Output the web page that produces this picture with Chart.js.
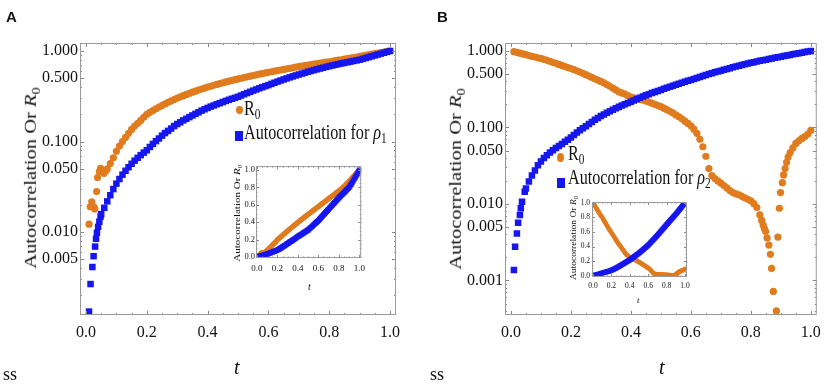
<!DOCTYPE html>
<html>
<head>
<meta charset="utf-8">
<script src="https://cdn.jsdelivr.net/npm/chart.js@4.4.0/dist/chart.umd.min.js"></script>
<style>
  html, body { margin: 0; padding: 0; background: #fff; }
  #fig { position: relative; width: 829px; height: 384px; overflow: hidden; color: #111;
         font-family: "Liberation Serif", "Times New Roman", serif; }
  #fig canvas { position: absolute; }
  .txt { position: absolute; white-space: nowrap; line-height: 1; }
  .sq { transform-origin: 0 0; transform: scaleX(0.77); }
  .rot { transform: translate(-50%, -50%) rotate(-90deg) scaleY(0.8); }
  .sb { font-size: 0.7em; vertical-align: -0.28em; }
  .mk { position: absolute; }
</style>
</head>
<body>
<div id="fig">
  <canvas id="mainA" width="414" height="384" style="left:0;top:0"></canvas>
  <canvas id="mainB" width="415" height="384" style="left:414px;top:0"></canvas>
  <canvas id="insetA" width="155" height="135" style="left:215px;top:160px"></canvas>
  <canvas id="insetB" width="135" height="115" style="left:560px;top:195px"></canvas>

  <div class="txt" style="left:6px;top:8px;font:bold 15px 'Liberation Sans',Arial,sans-serif">A</div>
  <div class="txt" style="left:437px;top:8px;font:bold 15px 'Liberation Sans',Arial,sans-serif">B</div>
  <div class="txt" style="left:3px;top:365px;font-size:18px">ss</div>
  <div class="txt" style="left:430px;top:365px;font-size:18px">ss</div>

  <div class="txt" style="left:234px;top:356.5px;font-size:20px;font-style:italic">t</div>
  <div class="txt" style="left:659px;top:356.5px;font-size:20px;font-style:italic">t</div>
  <div class="txt rot" style="left:31.5px;top:178px;font-size:20.5px">Autocorrelation Or <i>R</i><span class="sb">0</span></div>
  <div class="txt rot" style="left:457px;top:179px;font-size:20.5px">Autocorrelation Or <i>R</i><span class="sb">0</span></div>

  <div class="txt rot" style="left:238px;top:213px;font-size:11px">Autocorrelation Or <i>R</i><span class="sb">0</span></div>
  <div class="txt rot" style="left:574.5px;top:238px;font-size:9.5px">Autocorrelation Or <i>R</i><span class="sb">0</span></div>
  <div class="txt" style="left:308px;top:282px;font-size:10px;font-style:italic">t</div>
  <div class="txt" style="left:637px;top:296px;font-size:9px;font-style:italic">t</div>

  <div class="mk" style="left:235.5px;top:106px;width:7px;height:8px;border-radius:50%;background:rgb(224,123,30)"></div>
  <div class="txt sq" style="left:243.5px;top:98.1px;font-size:21px">R<span class="sb">0</span></div>
  <div class="mk" style="left:235px;top:131px;width:8px;height:10px;background:rgb(22,22,240)"></div>
  <div class="txt sq" style="left:244px;top:122.4px;font-size:21px">Autocorrelation for <i>ρ</i><span class="sb">1</span></div>

  <div class="mk" style="left:556.5px;top:152.5px;width:7px;height:9px;border-radius:50%;background:rgb(224,123,30)"></div>
  <div class="txt sq" style="left:568px;top:143.1px;font-size:21px">R<span class="sb">0</span></div>
  <div class="mk" style="left:557px;top:177.5px;width:7.5px;height:10px;background:rgb(22,22,240)"></div>
  <div class="txt sq" style="left:568.3px;top:167.4px;font-size:21px">Autocorrelation for <i>ρ</i><span class="sb">2</span></div>
</div>
<script>
// t grid shared by the dense parts of the bands
const tGrid = [
  0.01, 0.02, 0.03, 0.04, 0.05, 0.06, 0.07, 0.08, 0.09, 0.10,
  0.11, 0.12, 0.13, 0.14, 0.15, 0.16, 0.17, 0.18, 0.19, 0.20,
  0.21, 0.22, 0.23, 0.24, 0.25, 0.26, 0.27, 0.28, 0.29, 0.30,
  0.31, 0.32, 0.33, 0.34, 0.35, 0.36, 0.37, 0.38, 0.39, 0.40,
  0.41, 0.42, 0.43, 0.44, 0.45, 0.46, 0.47, 0.48, 0.49, 0.50,
  0.51, 0.52, 0.53, 0.54, 0.55, 0.56, 0.57, 0.58, 0.59, 0.60,
  0.61, 0.62, 0.63, 0.64, 0.65, 0.66, 0.67, 0.68, 0.69, 0.70,
  0.71, 0.72, 0.73, 0.74, 0.75, 0.76, 0.77, 0.78, 0.79, 0.80,
  0.81, 0.82, 0.83, 0.84, 0.85, 0.86, 0.87, 0.88, 0.89, 0.90,
  0.91, 0.92, 0.93, 0.94, 0.95, 0.96, 0.97, 0.98, 0.99, 1.00
];

// panel A, R0
const tR0A = [0.010, 0.014, 0.019, 0.026, 0.029, 0.035, 0.038, 0.044, 0.048, 0.054, 0.059, 0.066,
  ...tGrid.slice(6)];
const r0A = [
  0.0122, 0.0190, 0.0216, 0.0190, 0.0180, 0.0280, 0.0400, 0.0464, 0.0505, 0.0464, 0.0445, 0.0476,
  0.050, 0.057, 0.066, 0.078, 0.089, 0.100, 0.111, 0.123, 0.136, 0.148, 0.159, 0.171, 0.185, 0.200,
  0.210, 0.220, 0.230, 0.240, 0.250, 0.260, 0.271, 0.281, 0.291, 0.302,
  0.311, 0.321, 0.331, 0.341, 0.351, 0.360, 0.370, 0.380, 0.389, 0.399,
  0.408, 0.418, 0.427, 0.437, 0.446, 0.455, 0.464, 0.473, 0.482, 0.491,
  0.500, 0.509, 0.518, 0.527, 0.536, 0.545, 0.554, 0.563, 0.572, 0.581,
  0.590, 0.599, 0.608, 0.617, 0.626, 0.635, 0.644, 0.653, 0.662, 0.671,
  0.680, 0.689, 0.698, 0.707, 0.716, 0.725, 0.734, 0.743, 0.752, 0.761,
  0.771, 0.781, 0.791, 0.801, 0.812, 0.823, 0.835, 0.847, 0.859, 0.871,
  0.884, 0.897, 0.910, 0.923, 0.936, 0.949, 0.962, 0.975, 0.988, 1.000
];

// panel A, autocorrelation rho1
const tAcA = [0.010, 0.015, 0.021, 0.025, 0.030, 0.033, 0.036, 0.040, 0.044, 0.048, ...tGrid.slice(4)];
const acA = [
  0.00132, 0.00266, 0.0041, 0.0054, 0.0069, 0.0084, 0.0098, 0.0114, 0.0130, 0.0148,
  0.0158, 0.0185, 0.0218, 0.0255, 0.0298,
  0.0342, 0.0385, 0.043, 0.0475, 0.052, 0.0567, 0.0614, 0.066, 0.0707, 0.0754,
  0.080, 0.087, 0.094, 0.101, 0.108, 0.116, 0.124, 0.131, 0.139, 0.148,
  0.156, 0.163, 0.171, 0.178, 0.186, 0.194, 0.202, 0.210, 0.219, 0.227,
  0.235, 0.243, 0.250, 0.258, 0.265, 0.273, 0.281, 0.289, 0.297, 0.304,
  0.312, 0.322, 0.333, 0.343, 0.354, 0.365, 0.376, 0.387, 0.398, 0.409,
  0.420, 0.433, 0.446, 0.459, 0.472, 0.485, 0.498, 0.511, 0.524, 0.537,
  0.550, 0.563, 0.576, 0.589, 0.602, 0.615, 0.628, 0.641, 0.654, 0.667,
  0.680, 0.692, 0.704, 0.716, 0.728, 0.740, 0.752, 0.764, 0.776, 0.788,
  0.800, 0.818, 0.836, 0.855, 0.874, 0.894, 0.914, 0.935, 0.956, 0.978, 1.000
];

// panel B, R0
const tR0B = [...tGrid.slice(0, 83),
  0.836, 0.841, 0.845, 0.849, 0.854, 0.860, 0.865, 0.869, 0.875, 0.885,
  0.890, 0.895, 0.899, 0.905, 0.909, 0.914, 0.919, 0.924, 0.931, 0.94,
  0.95, 0.96, 0.97, 0.98, 0.99, 1.00];
const r0B = [
  0.980, 0.958, 0.936, 0.915, 0.894, 0.873, 0.853, 0.834, 0.816, 0.800,
  0.778, 0.756, 0.734, 0.712, 0.690, 0.668, 0.647, 0.627, 0.608, 0.590,
  0.570, 0.550, 0.530, 0.510, 0.490, 0.470, 0.451, 0.433, 0.416, 0.400,
  0.382, 0.364, 0.346, 0.328, 0.310, 0.292, 0.283, 0.274, 0.262, 0.250,
  0.244, 0.238, 0.232, 0.227, 0.222, 0.215, 0.208, 0.201, 0.194, 0.187,
  0.179, 0.171, 0.163, 0.155, 0.146, 0.138, 0.130, 0.121, 0.113, 0.105,
  0.095, 0.084, 0.070, 0.056, 0.042, 0.029, 0.0235, 0.0215, 0.0200, 0.0187,
  0.0174, 0.0162, 0.0150, 0.0141, 0.0136, 0.0132, 0.0126, 0.0120, 0.0115, 0.0110,
  0.0101, 0.0090, 0.0072,
  0.0061, 0.0053, 0.0048, 0.0044, 0.0036, 0.0029, 0.0022, 0.00144, 0.00072, 0.00040,
  0.0037, 0.0088, 0.0141, 0.0190, 0.024, 0.029, 0.035, 0.041, 0.047, 0.054,
  0.062, 0.067, 0.072, 0.076, 0.082, 0.092
];

// panel B, autocorrelation rho2
const tAcB = [0.010, 0.014, 0.020, 0.024, 0.030, 0.033, 0.037, 0.046, ...tGrid.slice(4)];
const acB = [
  0.00137, 0.00277, 0.0041, 0.0057, 0.0072, 0.0088, 0.0107, 0.0145,
  0.0160, 0.0197, 0.0235, 0.0275, 0.032,
  0.036, 0.040, 0.0435, 0.047, 0.0505, 0.054, 0.0575, 0.061, 0.065, 0.069,
  0.074, 0.080, 0.086, 0.092, 0.098, 0.104, 0.111, 0.118, 0.126, 0.133,
  0.141, 0.148, 0.156, 0.163, 0.171, 0.178, 0.186, 0.194, 0.201, 0.209,
  0.217, 0.226, 0.235, 0.244, 0.254, 0.263, 0.272, 0.282, 0.291, 0.300,
  0.310, 0.320, 0.331, 0.342, 0.352, 0.363, 0.374, 0.385, 0.396, 0.407,
  0.418, 0.431, 0.445, 0.458, 0.472, 0.485, 0.499, 0.512, 0.526, 0.539,
  0.553, 0.568, 0.582, 0.597, 0.612, 0.626, 0.641, 0.656, 0.670, 0.685,
  0.700, 0.714, 0.728, 0.743, 0.757, 0.771, 0.786, 0.800, 0.814, 0.829,
  0.843, 0.858, 0.874, 0.889, 0.905, 0.920, 0.936, 0.952, 0.968, 0.984, 1.000
];

const xTicks = [0, 0.2, 0.4, 0.6, 0.8, 1.0];
const yTicksA = [0.005, 0.01, 0.05, 0.1, 0.5, 1];
const yTicksB = [0.001, 0.005, 0.01, 0.05, 0.1, 0.5, 1];
const insetTicks = [0, 0.2, 0.4, 0.6, 0.8, 1.0];

const ORANGE = 'rgb(224,123,30)';
const BLUE = 'rgb(22,22,240)';
const SERIF = "'Liberation Serif', 'Times New Roman', serif";

const pts = (ts, vs) => ts.map((t, i) => ({ x: t, y: vs[i] }));

function linMinor() {
  const out = [];
  for (let k = 0; k <= 20; k++) out.push(k * 0.05);
  return out;
}
function logMinor(min, max) {
  const out = [];
  for (let e = -4; e <= 0; e++)
    for (let m = 1; m <= 9; m++) {
      const v = m * Math.pow(10, e);
      if (v >= min && v <= max) out.push(v);
    }
  return out;
}

// gray frame with small inward ticks, Mathematica style
const framePlugin = {
  id: 'frame',
  afterDatasetsDraw(chart, args, o) {
    const { ctx, chartArea: a, scales: { x, y } } = chart;
    ctx.save();
    ctx.lineWidth = 1;
    ctx.strokeStyle = o.tickColor;
    ctx.beginPath();
    const tx = (v, len) => {
      const p = Math.round(x.getPixelForValue(v)) + 0.5;
      ctx.moveTo(p, a.bottom); ctx.lineTo(p, a.bottom - len);
      ctx.moveTo(p, a.top); ctx.lineTo(p, a.top + len);
    };
    const ty = (v, len) => {
      const p = Math.round(y.getPixelForValue(v)) + 0.5;
      ctx.moveTo(a.left, p); ctx.lineTo(a.left + len, p);
      ctx.moveTo(a.right, p); ctx.lineTo(a.right - len, p);
    };
    o.xMinor.forEach(v => tx(v, o.minor));
    o.xMajor.forEach(v => tx(v, o.major));
    o.yMinor.forEach(v => ty(v, o.minor));
    o.yMajor.forEach(v => ty(v, o.major));
    ctx.stroke();
    ctx.strokeStyle = o.color;
    ctx.strokeRect(a.left + 0.5, a.top + 0.5, a.right - a.left - 1, a.bottom - a.top - 1);
    ctx.restore();
  }
};

function makeChart(id, c) {
  return new Chart(document.getElementById(id), {
    type: 'scatter',
    data: {
      datasets: [
        { label: 'R0', data: pts(c.t0, c.v0), pointStyle: 'circle', pointRadius: c.r0,
          backgroundColor: ORANGE, borderWidth: 0, order: 1 },
        { label: 'Autocorrelation', data: pts(c.t1, c.v1), pointStyle: 'rect', pointRadius: c.r1,
          backgroundColor: BLUE, borderWidth: 0, order: 0 }
      ]
    },
    options: {
      responsive: false,
      animation: false,
      events: [],
      layout: { padding: c.pad },
      plugins: {
        legend: { display: false },
        tooltip: { enabled: false },
        frame: {
          color: '#9a9a9a', tickColor: '#888', major: c.major, minor: c.minor,
          xMajor: xTicks, xMinor: linMinor(),
          yMajor: c.yTicks, yMinor: c.yLog ? logMinor(c.yMin, c.yMax) : linMinor()
        }
      },
      scales: {
        x: {
          type: 'linear', min: c.xMin, max: c.xMax,
          grid: { display: false, drawTicks: false }, border: { display: false },
          afterBuildTicks: s => { s.ticks = xTicks.map(v => ({ value: v })); },
          afterFit: s => { s.height = c.xH; },
          ticks: { autoSkip: false, maxRotation: 0, padding: c.xPad, color: '#111',
                   font: { family: SERIF, size: c.fs }, callback: v => v.toFixed(1) }
        },
        y: {
          type: c.yLog ? 'logarithmic' : 'linear', min: c.yMin, max: c.yMax,
          grid: { display: false, drawTicks: false }, border: { display: false },
          afterBuildTicks: s => { s.ticks = c.yTicks.map(v => ({ value: v })); },
          afterFit: s => { s.width = c.yW; },
          ticks: { autoSkip: false, padding: c.yPad, color: '#111',
                   font: { family: SERIF, size: c.fsY || c.fs },
                   callback: v => c.yLog ? v.toFixed(3) : v.toFixed(1) }
        }
      }
    },
    plugins: [framePlugin]
  });
}

makeChart('mainA', {
  t0: tR0A, v0: r0A, t1: tAcA, v1: acA, r0: 3.6, r1: 4.6,
  pad: { left: 0, top: 43, right: 18, bottom: 0 }, yW: 80, xH: 69,
  xMin: -0.0197, xMax: 1.0197, yLog: true, yMin: 0.00121, yMax: 1.226, yTicks: yTicksA,
  fs: 16, xPad: 8, yPad: 2, major: 4, minor: 2
});
makeChart('mainB', {
  t0: tR0B, v0: r0B, t1: tAcB, v1: acB, r0: 3.6, r1: 4.6,
  pad: { left: 0, top: 43, right: 8, bottom: 0 }, yW: 91, xH: 69,
  xMin: -0.0197, xMax: 1.0197, yLog: true, yMin: 0.000354, yMax: 1.272, yTicks: yTicksB,
  fs: 16, xPad: 8, yPad: 2, major: 4, minor: 2
});
makeChart('insetA', {
  t0: tR0A, v0: r0A, t1: tAcA, v1: acA, r0: 2.6, r1: 3.6,
  pad: { left: 0, top: 6, right: 6, bottom: 0 }, yW: 41, xH: 37,
  xMin: -0.0095, xMax: 1.019, yLog: false, yMin: -0.0115, yMax: 1.046, yTicks: insetTicks,
  fs: 9, fsY: 8.5, xPad: 5, yPad: 1, major: 3, minor: 1.5
});
makeChart('insetB', {
  t0: tR0B, v0: r0B, t1: tAcB, v1: acB, r0: 2.4, r1: 3.4,
  pad: { left: 0, top: 7, right: 8, bottom: 0 }, yW: 32, xH: 33,
  xMin: -0.011, xMax: 1.022, yLog: false, yMin: -0.018, yMax: 1.01, yTicks: insetTicks,
  fs: 7.5, xPad: 5, yPad: 2, major: 3, minor: 1.5
});
</script>
</body>
</html>
